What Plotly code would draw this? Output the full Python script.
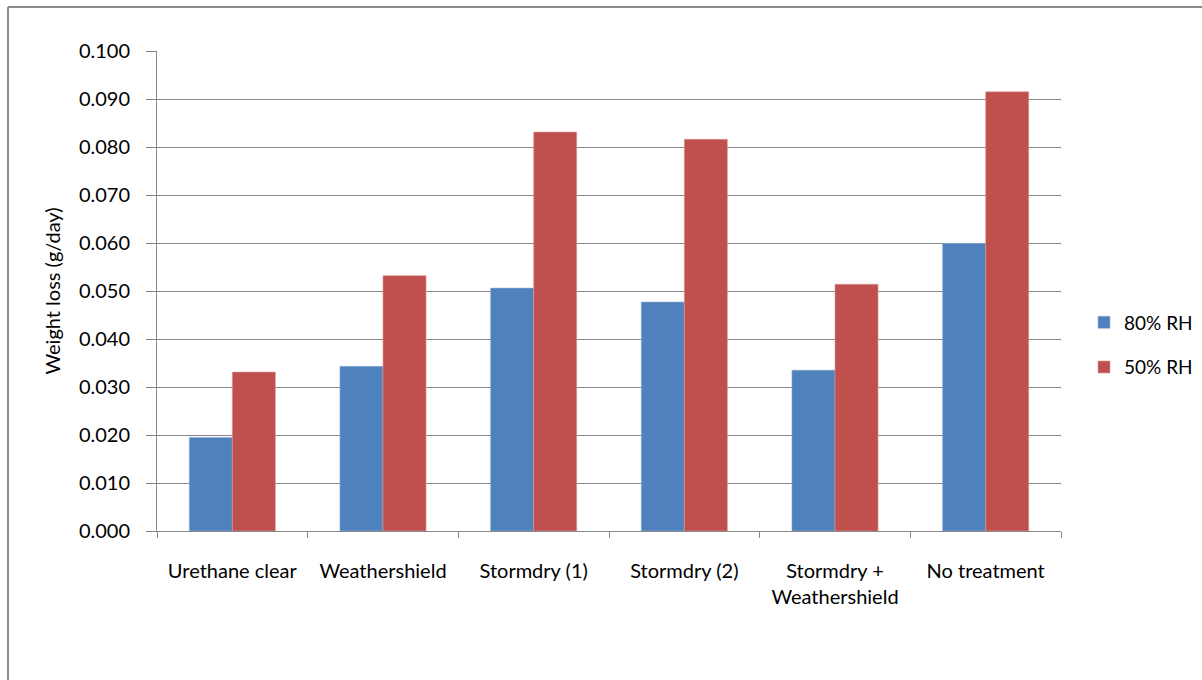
import plotly.graph_objects as go

categories = ["Urethane clear", "Weathershield", "Stormdry (1)", "Stormdry (2)",
              "Stormdry +<br>Weathershield", "No treatment"]
rh80 = [0.0195, 0.0343, 0.0506, 0.0477, 0.0335, 0.0599]
rh50 = [0.0331, 0.0532, 0.0831, 0.0816, 0.0514, 0.0915]
y_ticks = [0.0, 0.01, 0.02, 0.03, 0.04, 0.05, 0.06, 0.07, 0.08, 0.09, 0.10]
y_ticklabels = ["%.3f" % v for v in y_ticks]

FONT = "Lato"
FS = 20
GRID = "#878787"

fig = go.Figure()
fig.add_trace(go.Bar(x=categories, y=rh80, name="80% RH", marker_color="#4F81BD",
                     marker_line=dict(color="#8FAED6", width=0.6),
                     legendgroup="a"))
fig.add_trace(go.Bar(x=categories, y=rh50, name="50% RH", marker_color="#C0504D",
                     marker_line=dict(color="#DC9896", width=0.6),
                     legendgroup="b"))

W, H = 1202, 680
L, R, T, B = 157, 141, 51, 149

fig.update_layout(
    width=W, height=H,
    margin=dict(l=L, r=R, t=T, b=B, pad=0, autoexpand=False),
    paper_bgcolor="white", plot_bgcolor="white",
    barmode="group", bargap=0.4286, bargroupgap=0,
    font=dict(family=FONT, size=FS, color="#000000"),
    legend=dict(xref="container", yref="container",
                x=1084 / W, y=1 - 345 / H, xanchor="left", yanchor="middle",
                font=dict(family=FONT, size=19), tracegroupgap=17,
                itemwidth=30, bgcolor="rgba(0,0,0,0)"),
    xaxis=dict(showline=True, linecolor=GRID, linewidth=1,
               ticks="outside", tickson="boundaries", ticklen=6, tickcolor=GRID,
               showgrid=False, ticklabelstandoff=22,
               tickfont=dict(family=FONT, size=FS)),
    yaxis=dict(range=[0, 0.1], tickvals=y_ticks, ticktext=y_ticklabels,
               showline=True, linecolor=GRID, linewidth=1,
               ticks="outside", ticklen=10, tickcolor=GRID,
               showgrid=True, gridcolor=GRID, gridwidth=1,
               zeroline=False, ticklabelstandoff=12,
               tickfont=dict(family=FONT, size=FS),
               title=dict(text="Weight loss (g/day)", standoff=12,
                          font=dict(family=FONT, size=FS))),
    shapes=[
        dict(type="line", xref="paper", yref="paper",
             x0=(8 - L) / (W - L - R), x1=(W - L) / (W - L - R),
             y0=1 + (T - 7) / (H - T - B), y1=1 + (T - 7) / (H - T - B),
             line=dict(color="#8c8c8c", width=2)),
        dict(type="line", xref="paper", yref="paper",
             x0=(8 - L) / (W - L - R), x1=(8 - L) / (W - L - R),
             y0=1 + (T - 7) / (H - T - B), y1=-(B) / (H - T - B),
             line=dict(color="#8c8c8c", width=2)),
    ],
)

fig.write_html("out.html")
